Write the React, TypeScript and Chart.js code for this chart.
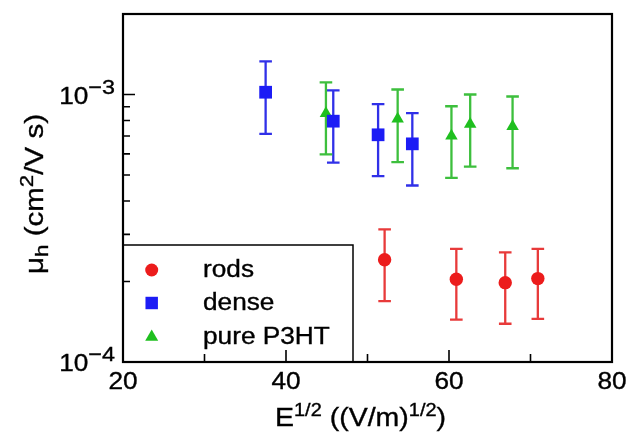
import React, { useEffect, useRef } from 'react';
import { Chart, registerables } from 'chart.js';
Chart.register(...registerables);

// ---- data ----
const seriesLabels = ['rods', 'dense', 'pure P3HT'];

const rodsX = [52.1, 60.9, 66.9, 70.9];
const rodsY = [2.41e-4, 2.04e-4, 1.98e-4, 2.05e-4];
const rodsLo = [1.69e-4, 1.44e-4, 1.39e-4, 1.45e-4];
const rodsHi = [3.13e-4, 2.65e-4, 2.57e-4, 2.65e-4];

const denseX = [37.5, 45.8, 51.3, 55.5];
const denseY = [1.02e-3, 7.95e-4, 7.07e-4, 6.54e-4];
const denseLo = [7.13e-4, 5.56e-4, 4.95e-4, 4.57e-4];
const denseHi = [1.33e-3, 1.037e-3, 9.2e-4, 8.52e-4];

const pureX = [44.9, 53.7, 60.3, 62.6, 67.8];
const pureY = [8.5e-4, 8.1e-4, 7.0e-4, 7.75e-4, 7.6e-4];
const pureLo = [5.97e-4, 5.59e-4, 4.88e-4, 5.38e-4, 5.3e-4];
const pureHi = [1.11e-3, 1.044e-3, 9.04e-4, 1.0e-3, 9.83e-4];

const xMajorTicks = [20, 40, 60, 80];
const xMinorTicks = [30, 50, 70];
const yMajorTicks = [1e-4, 1e-3];
const yMajorExp = ['\u22124', '\u22123'];
const yMinorTicks = [2e-4, 3e-4, 4e-4, 5e-4, 6e-4, 7e-4, 8e-4, 9e-4];

const X_MIN = 20, X_MAX = 80, Y_MIN = 1e-4, Y_MAX = 2e-3;

const RED = '#ec1c1c';
const BLUE = '#1c1cf5';
const GREEN = '#1fbf1f';
const RED_BAR = '#e83a3a';
const BLUE_BAR = '#3030e8';
const GREEN_BAR = '#3dbf3d';

const FONT = '"Liberation Sans", Arial, Helvetica, sans-serif';
const SX = 1.14;

type Seg = { t: string; s: number; dy?: number };

function drawRich(ctx: CanvasRenderingContext2D, segs: Seg[], x: number, y: number, align: 'left' | 'center' | 'right', rot = 0, sx = SX) {
  ctx.save();
  ctx.translate(x, y);
  if (rot) ctx.rotate(rot);
  ctx.scale(sx, 1);
  ctx.textAlign = 'left';
  ctx.textBaseline = 'alphabetic';
  ctx.fillStyle = '#000';
  ctx.strokeStyle = '#000';
  ctx.lineWidth = 0.35;
  let w = 0;
  for (const g of segs) {
    ctx.font = `${g.s}px ${FONT}`;
    w += ctx.measureText(g.t).width;
  }
  let cx = align === 'left' ? 0 : align === 'center' ? -w / 2 : -w;
  for (const g of segs) {
    ctx.font = `${g.s}px ${FONT}`;
    ctx.fillText(g.t, cx, g.dy || 0);
    ctx.strokeText(g.t, cx, g.dy || 0);
    cx += ctx.measureText(g.t).width;
  }
  ctx.restore();
}

const errorBars = [
  { xs: rodsX, lo: rodsLo, hi: rodsHi, color: RED_BAR },
  { xs: denseX, lo: denseLo, hi: denseHi, color: BLUE_BAR },
  { xs: pureX, lo: pureLo, hi: pureHi, color: GREEN_BAR },
];

const framePlugin = {
  id: 'frame',
  beforeDatasetsDraw(chart: any) {
    const ctx = chart.ctx as CanvasRenderingContext2D;
    const xs = chart.scales.x, ys = chart.scales.y;
    ctx.save();
    ctx.lineWidth = 2.3;
    for (const eb of errorBars) {
      ctx.strokeStyle = eb.color;
      eb.xs.forEach((xv, i) => {
        const px = xs.getPixelForValue(xv);
        const pLo = ys.getPixelForValue(eb.lo[i]);
        const pHi = ys.getPixelForValue(eb.hi[i]);
        ctx.beginPath();
        ctx.moveTo(px, pLo); ctx.lineTo(px, pHi);
        ctx.moveTo(px - 6.3, pLo); ctx.lineTo(px + 6.3, pLo);
        ctx.moveTo(px - 6.3, pHi); ctx.lineTo(px + 6.3, pHi);
        ctx.stroke();
      });
    }
    ctx.restore();
  },
  afterDraw(chart: any) {
    const ctx = chart.ctx as CanvasRenderingContext2D;
    const { left, right, top, bottom } = chart.chartArea;
    const xs = chart.scales.x, ys = chart.scales.y;
    ctx.save();

    // legend box
    const lgRight = 353, lgTop = 245;
    ctx.fillStyle = '#fff';
    ctx.fillRect(left, lgTop, lgRight - left, bottom - lgTop);
    ctx.strokeStyle = '#000';
    ctx.lineWidth = 1.5;
    ctx.strokeRect(left, lgTop, lgRight - left, bottom - lgTop);

    const markX = 151.7;
    const rowsY = [270, 303, 337];
    const styles = ['circle', 'rect', 'triangle'];
    const cols = [RED, BLUE, GREEN];
    const radii = [6.5, 8.8, 7.5];
    rowsY.forEach((ry, i) => {
      ctx.fillStyle = cols[i];
      ctx.beginPath();
      if (styles[i] === 'circle') {
        ctx.arc(markX, ry, radii[i], 0, Math.PI * 2);
      } else if (styles[i] === 'rect') {
        const h = radii[i] * Math.SQRT1_2;
        ctx.rect(markX - h, ry - h, 2 * h, 2 * h);
      } else {
        const r = radii[i];
        ctx.moveTo(markX, ry - r);
        ctx.lineTo(markX + r * Math.sin(Math.PI / 3), ry + r / 2);
        ctx.lineTo(markX - r * Math.sin(Math.PI / 3), ry + r / 2);
        ctx.closePath();
      }
      ctx.fill();
      drawRich(ctx, [{ t: seriesLabels[i], s: 23 }], 203, ry + 7, 'left');
    });

    // frame
    ctx.strokeStyle = '#000';
    ctx.lineWidth = 2.2;
    ctx.strokeRect(left, top, right - left, bottom - top);

    // ticks
    ctx.lineWidth = 1.6;
    ctx.beginPath();
    for (const v of xMajorTicks) {
      const px = xs.getPixelForValue(v);
      ctx.moveTo(px, bottom); ctx.lineTo(px, bottom - 12);
    }
    for (const v of xMinorTicks) {
      const px = xs.getPixelForValue(v);
      ctx.moveTo(px, bottom); ctx.lineTo(px, bottom - 8);
    }
    for (const v of yMajorTicks) {
      const py = ys.getPixelForValue(v);
      ctx.moveTo(left, py); ctx.lineTo(left + 12, py);
    }
    for (const v of yMinorTicks) {
      const py = ys.getPixelForValue(v);
      ctx.moveTo(left, py); ctx.lineTo(left + 7, py);
    }
    ctx.stroke();

    // tick labels
    for (const v of xMajorTicks) {
      const px = xs.getPixelForValue(v);
      drawRich(ctx, [{ t: String(v), s: 23 }], px, bottom + 27, 'center');
    }
    yMajorTicks.forEach((v, i) => {
      const py = ys.getPixelForValue(v);
      drawRich(ctx, [{ t: '10', s: 23 }, { t: yMajorExp[i], s: 20.5, dy: -10 }], left - 8, py + 9, 'right');
    });

    // axis titles
    drawRich(
      ctx,
      [
        { t: 'E', s: 25 },
        { t: '1/2', s: 17.5, dy: -10 },
        { t: ' ((V/m)', s: 25 },
        { t: '1/2', s: 17.5, dy: -10 },
        { t: ')', s: 25 },
      ],
      (left + right) / 2 - 7,
      425.5,
      'center'
    );
    drawRich(
      ctx,
      [
        { t: '\u03bc', s: 25 },
        { t: 'h', s: 19, dy: 5 },
        { t: ' (cm', s: 25 },
        { t: '2', s: 19, dy: -10 },
        { t: '/V s)', s: 25 },
      ],
      43,
      194,
      'center',
      -Math.PI / 2,
      1.18
    );
    ctx.restore();
  },
};

export default function App() {
  const ref = useRef<HTMLCanvasElement | null>(null);
  useEffect(() => {
    if (!ref.current) return;
    const mk = (xsArr: number[], ysArr: number[]) => xsArr.map((x, i) => ({ x, y: ysArr[i] }));
    const chart = new Chart(ref.current, {
      type: 'scatter',
      data: {
        datasets: [
          { label: seriesLabels[0], data: mk(rodsX, rodsY), pointStyle: 'circle', pointRadius: 6.7, backgroundColor: RED, borderWidth: 0 },
          { label: seriesLabels[1], data: mk(denseX, denseY), pointStyle: 'rect', pointRadius: 9, backgroundColor: BLUE, borderWidth: 0 },
          { label: seriesLabels[2], data: mk(pureX, pureY), pointStyle: 'triangle', pointRadius: 7.2, backgroundColor: GREEN, borderWidth: 0 },
        ],
      },
      options: {
        responsive: false,
        animation: false,
        devicePixelRatio: 1,
        layout: { padding: { left: 123, right: 16, top: 14, bottom: 70 } },
        plugins: { legend: { display: false }, tooltip: { enabled: false } },
        scales: {
          x: { type: 'linear', min: X_MIN, max: X_MAX, display: false },
          y: { type: 'logarithmic', min: Y_MIN, max: Y_MAX, display: false },
        },
      },
      plugins: [framePlugin],
    } as any);
    return () => chart.destroy();
  }, []);
  return (
    <div style={{ position: 'fixed', left: 0, top: 0, width: 628, height: 432, background: '#fff' }}>
      <canvas ref={ref} width={628} height={432} style={{ width: 628, height: 432, display: 'block' }} />
    </div>
  );
}
